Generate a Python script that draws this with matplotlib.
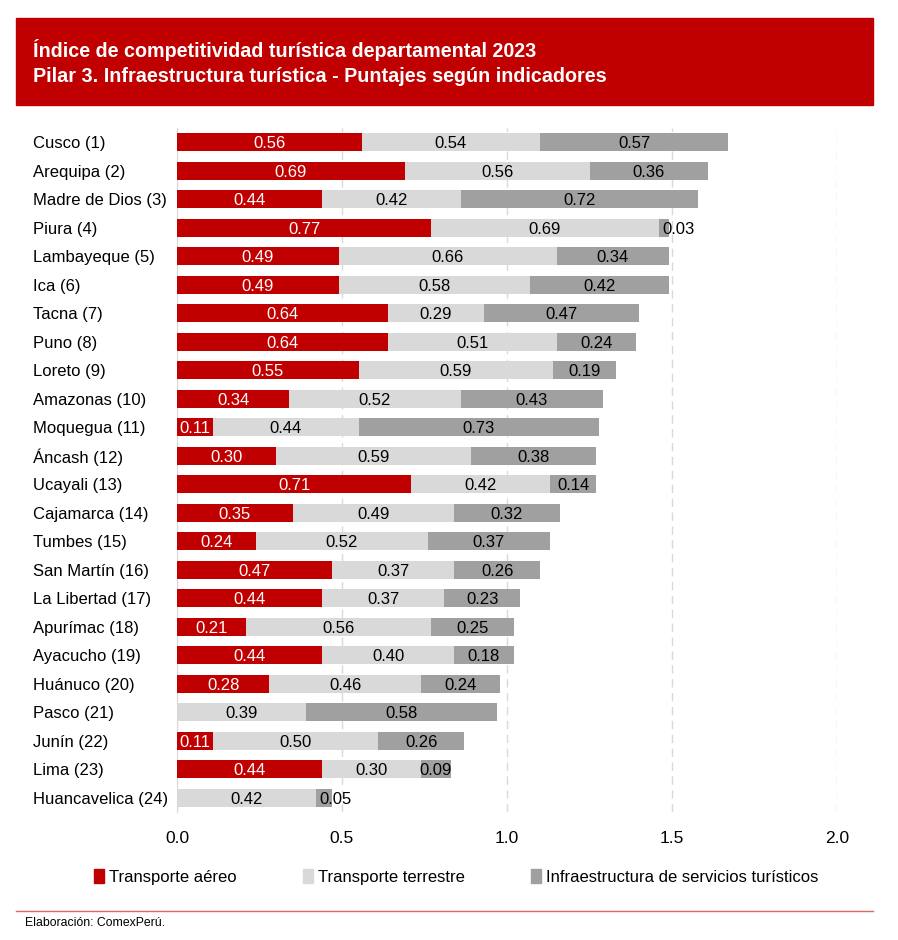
import matplotlib
matplotlib.use('Agg')
import matplotlib.pyplot as plt
from matplotlib.patches import Rectangle, Patch
from matplotlib.lines import Line2D
import numpy as np

plt.rcParams['font.family'] = ['Liberation Sans', 'DejaVu Sans']

# datos
departamentos = ['Cusco (1)', 'Arequipa (2)', 'Madre de Dios (3)', 'Piura (4)',
                 'Lambayeque (5)', 'Ica (6)', 'Tacna (7)', 'Puno (8)', 'Loreto (9)',
                 'Amazonas (10)', 'Moquegua (11)', 'Áncash (12)', 'Ucayali (13)',
                 'Cajamarca (14)', 'Tumbes (15)', 'San Martín (16)', 'La Libertad (17)',
                 'Apurímac (18)', 'Ayacucho (19)', 'Huánuco (20)', 'Pasco (21)',
                 'Junín (22)', 'Lima (23)', 'Huancavelica (24)']
aereo = [0.56, 0.69, 0.44, 0.77, 0.49, 0.49, 0.64, 0.64, 0.55, 0.34, 0.11, 0.30,
         0.71, 0.35, 0.24, 0.47, 0.44, 0.21, 0.44, 0.28, 0.00, 0.11, 0.44, 0.00]
terrestre = [0.54, 0.56, 0.42, 0.69, 0.66, 0.58, 0.29, 0.51, 0.59, 0.52, 0.44, 0.59,
             0.42, 0.49, 0.52, 0.37, 0.37, 0.56, 0.40, 0.46, 0.39, 0.50, 0.30, 0.42]
infra = [0.57, 0.36, 0.72, 0.03, 0.34, 0.42, 0.47, 0.24, 0.19, 0.43, 0.73, 0.38,
         0.14, 0.32, 0.37, 0.26, 0.23, 0.25, 0.18, 0.24, 0.58, 0.26, 0.09, 0.05]
series_nombres = ['Transporte aéreo', 'Transporte terrestre',
                  'Infraestructura de servicios turísticos']
xticks = [0.0, 0.5, 1.0, 1.5, 2.0]

rojo = '#C00000'
gris_claro = '#D9D9D9'
gris_oscuro = '#A0A0A0'

W, H = 898, 940
fig = plt.figure(figsize=(W / 100, H / 100), dpi=100)

# caja del titulo
fig.patches.append(Rectangle((16 / W, 1 - 105 / H), (873 - 16) / W, 87 / H,
                             transform=fig.transFigure, color=rojo, zorder=0))
fig.text(33 / W, 1 - 50 / H, 'Índice de competitividad turística departamental 2023',
         color='white', fontsize=14.2, fontweight='bold', va='center', ha='left')
fig.text(33 / W, 1 - 76 / H, 'Pilar 3. Infraestructura turística - Puntajes según indicadores',
         color='white', fontsize=14.2, fontweight='bold', va='center', ha='left')

ax = fig.add_axes([177 / W, 1 - 812 / H, 660 / W, 684 / H])
y = np.arange(len(departamentos))
a = np.array(aereo)
t = np.array(terrestre)
i = np.array(infra)
alto = 0.64
ax.barh(y, a, height=alto, color=rojo, zorder=3)
ax.barh(y, t, left=a, height=alto, color=gris_claro, zorder=3)
ax.barh(y, i, left=a + t, height=alto, color=gris_oscuro, zorder=3)

# etiquetas de valores
fs = 12
va = 'center_baseline'
for k in range(len(y)):
    if a[k] > 0:
        ax.text(a[k] / 2, y[k], f'{a[k]:.2f}', color='white', fontsize=fs,
                ha='center', va=va, zorder=4)
    ax.text(a[k] + t[k] / 2, y[k], f'{t[k]:.2f}', color='black', fontsize=fs,
            ha='center', va=va, zorder=4)
    if i[k] < 0.07:
        ax.text(a[k] + t[k] + 0.01, y[k], f'{i[k]:.2f}', color='black', fontsize=fs,
                ha='left', va=va, zorder=4)
    else:
        ax.text(a[k] + t[k] + i[k] / 2, y[k], f'{i[k]:.2f}', color='black', fontsize=fs,
                ha='center', va=va, zorder=4)

ax.set_xlim(0, 2.0)
ax.set_ylim(len(y) - 0.5, -0.5)
ax.set_xticks(xticks, [f'{v:.1f}' for v in xticks])
ax.set_yticks(y, departamentos)
for lab in ax.get_yticklabels():
    lab.set_horizontalalignment('left')
ax.tick_params(axis='y', length=0, pad=104, labelsize=12)
ax.tick_params(axis='x', length=0, pad=14, labelsize=12.5)
for s in ['top', 'right', 'bottom']:
    ax.spines[s].set_visible(False)
ax.spines['left'].set_color('#D9D9D9')
ax.xaxis.grid(True, color='#D9D9D9', linestyle=(0, (6, 4)), linewidth=1, zorder=0)
ax.set_axisbelow(True)

# leyenda
handles = [Patch(color=c) for c in [rojo, gris_claro, gris_oscuro]]
fig.legend(handles, series_nombres, loc='center', bbox_to_anchor=(0.508, 1 - 877 / H),
           ncol=3, frameon=False, fontsize=12, handlelength=0.6, handleheight=0.9,
           handletextpad=0.3, columnspacing=4.0)

# pie
fig.lines.append(Line2D([16 / W, 873 / W], [1 - 911 / H, 1 - 911 / H],
                        transform=fig.transFigure, color='#E06666', linewidth=1))
fig.text(25 / W, 1 - 923 / H, 'Elaboración: ComexPerú.', fontsize=8.8, va='center', ha='left')

fig.savefig('out.png', dpi=100)
